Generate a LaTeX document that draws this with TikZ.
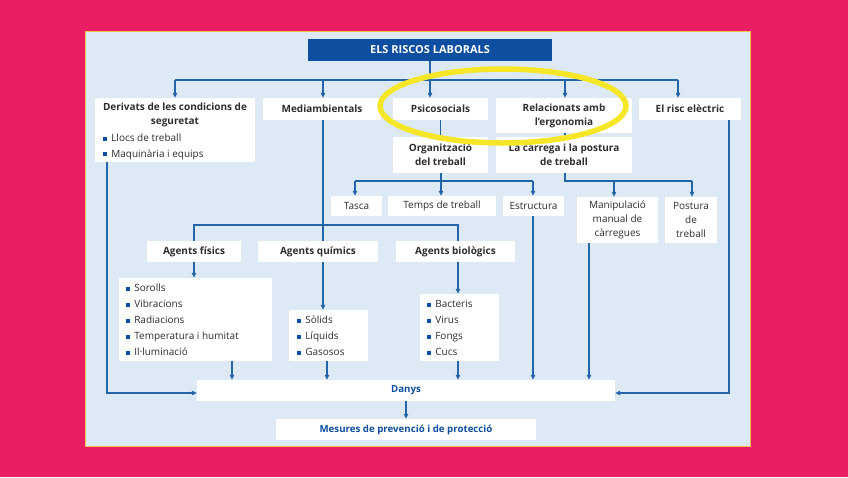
\documentclass[tikz,border=0pt]{standalone}
\usepackage{fontspec}
\setmainfont{Open Sans}
\usetikzlibrary{arrows.meta}
\definecolor{pinkbg}{HTML}{E91E63}
\definecolor{panel}{HTML}{DDE9F5}
\definecolor{panelborder}{HTML}{F2C14E}
\definecolor{navy}{HTML}{0D4EA0}
\definecolor{lineblue}{HTML}{2465AA}
\definecolor{txt}{HTML}{2E2E2E}
\definecolor{hilite}{HTML}{F5E628}
\newcommand{\bulsq}{{\color{navy}\rule[1pt]{3.6pt}{3.6pt}}\hspace{4.5pt}}
\begin{document}
\begin{tikzpicture}[x=1pt,y=-1pt,
  wbox/.style={fill=white, draw=none, inner sep=0pt, text=txt, align=center},
  hd/.style={wbox, font=\fontsize{10}{14}\selectfont\bfseries},
  rg/.style={wbox, font=\fontsize{10}{14}\selectfont},
  bluehd/.style={wbox, text=navy, font=\fontsize{9.7}{14}\selectfont\bfseries},
  titlebox/.style={fill=navy, draw=none, text=white, inner sep=0pt, font=\fontsize{11}{13}\selectfont\bfseries},
  itm/.style={anchor=base west, inner sep=0pt, text=txt, font=\fontsize{10}{12}\selectfont},
  ln/.style={draw=lineblue, line width=1.2pt},
  arr/.style={ln, -{Triangle[length=5pt,width=4.5pt]}},
  ring/.style={draw=hilite, line width=5.5pt}
]
\useasboundingbox (0,0) rectangle (848,477);
\fill[pinkbg] (0,0) rectangle (848,477);
\filldraw[fill=panel, draw=panelborder, line width=1pt] (85,31) rectangle (750,446);

% title
\node[titlebox, minimum width=244, minimum height=22] (title) at (430,50) {ELS RISCOS LABORALS};

% level 1
\node[wbox, minimum width=160, minimum height=64] (deriv) at (175,130) {};
\node[hd, fill=none] (derivt) at (175,115) {Derivats de les condicions de\\seguretat};
\node[itm] (dl1) at (103,141.5) {\bulsq Llocs de treball};
\node[itm] (dl2) at (103,157) {\bulsq Maquinària i equips};
\node[hd, minimum width=118, minimum height=22] (medi) at (322,109) {Mediambientals};
\node[hd, minimum width=95, minimum height=22] (psico) at (440.5,109) {Psicosocials};
\node[hd, minimum width=136, minimum height=35] (rel) at (564,115.5) {Relacionats amb\\l’ergonomia};
\node[hd, minimum width=102, minimum height=22] (risc) at (690,109) {El risc elèctric};

% level 2
\node[hd, minimum width=95, minimum height=36] (org) at (440.5,155) {Organització\\del treball};
\node[hd, minimum width=136, minimum height=36] (car) at (564,155) {La càrrega i la postura\\de treball};

% level 3
\node[rg, minimum width=51, minimum height=20] (tasca) at (356.5,206) {Tasca};
\node[rg, minimum width=108, minimum height=20] (temps) at (442,206) {Temps de treball};
\node[rg, minimum width=61, minimum height=20] (estr) at (533.5,206) {Estructura};
\node[rg, minimum width=81, minimum height=46] (manip) at (617.5,220) {Manipulació\\manual de\\càrregues};
\node[rg, minimum width=52, minimum height=46] (post) at (691,220) {Postura\\de\\treball};

% agents
\node[hd, minimum width=94, minimum height=21] (fis) at (194,251.5) {Agents físics};
\node[hd, minimum width=120, minimum height=21] (quim) at (318,251.5) {Agents químics};
\node[hd, minimum width=119, minimum height=21] (bio) at (455.5,251.5) {Agents biològics};

% lists
\node[wbox, minimum width=153, minimum height=83] (fislist) at (195.5,319.5) {};
\node[itm] (f1) at (126,291.5) {\bulsq Sorolls};
\node[itm] (f2) at (126,307.5) {\bulsq Vibracions};
\node[itm] (f3) at (126,323.5) {\bulsq Radiacions};
\node[itm] (f4) at (126,339.5) {\bulsq Temperatura i humitat};
\node[itm] (f5) at (126,355.5) {\bulsq Il·luminació};
\node[wbox, minimum width=79, minimum height=51] (quimlist) at (328.5,335.5) {};
\node[itm] (q1) at (297,323.5) {\bulsq Sòlids};
\node[itm] (q2) at (297,339.5) {\bulsq Líquids};
\node[itm] (q3) at (297,355.5) {\bulsq Gasosos};
\node[wbox, minimum width=79, minimum height=67] (biolist) at (459.5,327.5) {};
\node[itm] (b1) at (427,307.5) {\bulsq Bacteris};
\node[itm] (b2) at (427,323.5) {\bulsq Virus};
\node[itm] (b3) at (427,339.5) {\bulsq Fongs};
\node[itm] (b4) at (427,355.5) {\bulsq Cucs};

% bottom
\node[bluehd, minimum width=418, minimum height=21] (danys) at (406,390.5) {Danys};
\node[bluehd, minimum width=260, minimum height=21] (mesures) at (406,429.5) {Mesures de prevenció i de protecció};

% coordinates
\coordinate (h0) at (175,80);
\coordinate (m1) at (323,80);
\coordinate (r1) at (565,80);
\coordinate (e1) at (678,80);
\coordinate (o0) at (355,181);
\coordinate (o1) at (441,181);
\coordinate (o2) at (533,181);
\coordinate (c0) at (565,181);
\coordinate (c1) at (614,181);
\coordinate (c2) at (692,181);
\coordinate (a0) at (194,225);
\coordinate (a1) at (458,225);
\coordinate (d1) at (232,0);
\coordinate (d2) at (327,0);
\coordinate (d5) at (589,0);
\coordinate (l0) at (107,393);
\coordinate (rr) at (729,393);

% connectors top
\draw[ln] (h0) -- (e1);
\draw[arr] (h0) -- (h0 |- deriv.north);
\draw[arr] (m1) -- (m1 |- medi.north);
\draw[arr] (title.south) -- (title.south |- psico.north);
\draw[arr] (r1) -- (r1 |- rel.north);
\draw[arr] (e1) -- (e1 |- risc.north);
\draw[ln] (psico.south) -- (org.north);
\draw[ln] (r1 |- rel.south) -- (r1 |- car.north);

% organitzacio
\draw[ln] (o1 |- org.south) -- (o1);
\draw[ln] (o0) -- (o2);
\draw[arr] (o0) -- (o0 |- tasca.north);
\draw[arr] (o1) -- (o1 |- temps.north);
\draw[arr] (o2) -- (o2 |- estr.north);

% carrega
\draw[ln] (c0 |- car.south) -- (c0) -- (c2);
\draw[arr] (c1) -- (c1 |- manip.north);
\draw[arr] (c2) -- (c2 |- post.north);

% mediambientals
\draw[ln] (m1 |- medi.south) -- (m1 |- quim.north);
\draw[ln] (a0 |- fis.north) -- (a0) -- (a1) -- (a1 |- bio.north);
\draw[arr] (a0 |- fis.south) -- (a0 |- fislist.north);
\draw[arr] (m1 |- quim.south) -- (m1 |- quimlist.north);
\draw[arr] (a1 |- bio.south) -- (a1 |- biolist.north);

% to danys
\draw[arr] (d1 |- fislist.south) -- (d1 |- danys.north);
\draw[arr] (d2 |- quimlist.south) -- (d2 |- danys.north);
\draw[arr] (a1 |- biolist.south) -- (a1 |- danys.north);
\draw[arr] (o2 |- estr.south) -- (o2 |- danys.north);
\draw[arr] (d5 |- manip.south) -- (d5 |- danys.north);
\draw[arr] (l0 |- deriv.south) -- (l0) -- (danys.west |- l0);
\draw[arr] (rr |- risc.south) -- (rr) -- (danys.east |- rr);
\draw[arr] (danys.south) -- (mesures.north);

% highlight
\draw[ring] (503,106) ellipse [x radius=123pt, y radius=37pt];
\end{tikzpicture}
\end{document}
